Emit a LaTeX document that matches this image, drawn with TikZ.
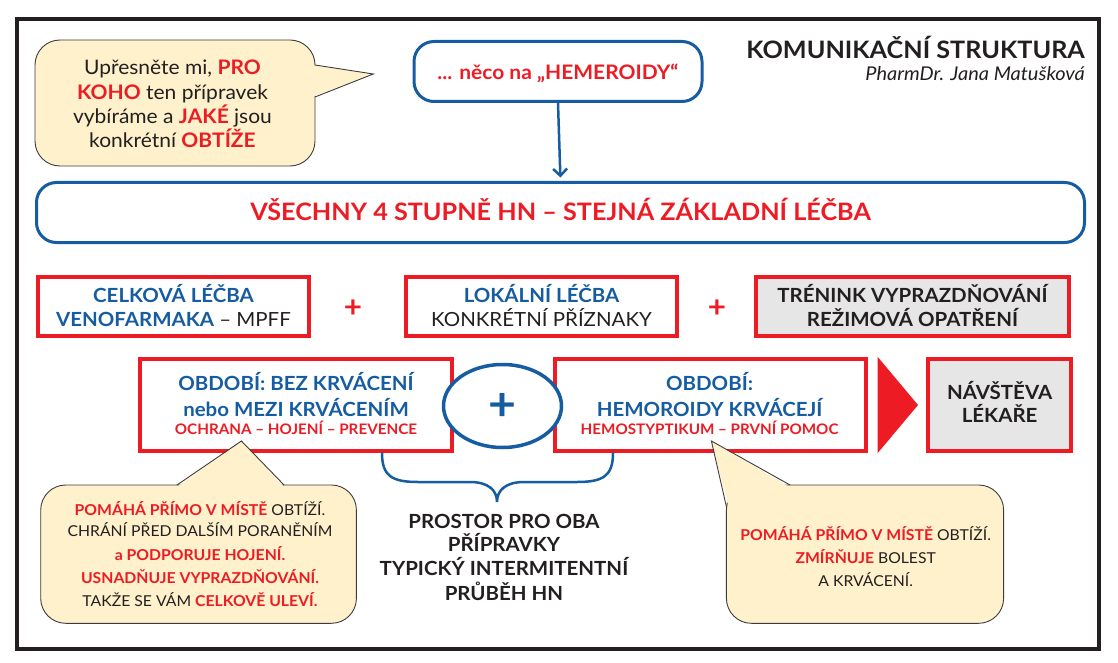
\documentclass[tikz,border=0pt]{standalone}
\usepackage{fontspec}
\setmainfont{Lato}[FakeStretch=1.05]
\usetikzlibrary{arrows.meta,shapes.geometric}
\definecolor{cred}{RGB}{237,28,36}
\definecolor{cblue}{RGB}{22,92,160}
\definecolor{cdark}{RGB}{35,31,32}
\definecolor{cbub}{RGB}{254,241,203}
\definecolor{cgray}{RGB}{230,230,230}
\definecolor{cbubline}{RGB}{60,60,60}
\newcommand\fs[1]{\fontsize{#1}{#1}\selectfont}
\newcommand\R[1]{\textcolor{cred}{\bfseries #1}}
\newcommand\B[1]{\textcolor{cblue}{\bfseries #1}}
\begin{document}
\begin{tikzpicture}[x=1pt,y=-1pt,
  tx/.style={inner sep=0pt, anchor=base, text=cdark},
  redbox/.style={draw=cred, line width=4pt, inner sep=0pt},
  bluebox/.style={draw=cblue, line width=3pt, rounded corners=20pt, inner sep=0pt},
  bub/.style={fill=cbub, draw=cbubline, line width=0.9pt, rounded corners=25pt},
  tail/.style={draw=cbubline, line width=0.9pt, line join=miter},
  txS/.style={tx, font=\fs{15}},
  txM/.style={tx, font=\fs{19.5}},
  txR/.style={tx, font=\fs{14.5}\bfseries, text=cred},
  plusR/.style={inner sep=0pt, text=cred, font=\fs{30}\bfseries},
]
\useasboundingbox (0,0) rectangle (1118,663);
% frame
\draw[cdark, line width=4pt] (17,19) rectangle (1099.3,648.8);

% top-left bubble
\draw[bub] (35,40) rectangle (315,166);
\fill[cbub] (312,65) -- (373.3,74) -- (312,97) -- cycle;
\draw[tail] (315,65) -- (373.3,74) -- (315,97);
\node[tx, font=\fs{20}] (q1) at (172.5,74.3) {Upřesněte mi, \R{PRO}};
\node[tx, font=\fs{20}] (q2) at (172.5,99.3) {\R{KOHO} ten přípravek};
\node[tx, font=\fs{20}] (q3) at (172.5,123.5) {vybíráme a \R{JAKÉ} jsou};
\node[tx, font=\fs{20}] (q4) at (172.5,148) {konkrétní \R{OBTÍŽE}};

% top blue box
\node[bluebox, minimum width=288pt, minimum height=60pt] (hem) at (558,71.5) {};
\node[tx, font=\fs{20}\bfseries, text=cred] (hemt) at (558,80) {... něco na „HEMEROIDY“};

% title
\node[tx, anchor=base east, font=\fs{24}\bfseries] (title) at (1085,58.3) {KOMUNIKAČNÍ STRUKTURA};
\node[tx, anchor=base east, font=\fs{19}\itshape] (author) at (1085,81) {PharmDr. Jana Matušková};

% big box
\node[bluebox, minimum width=1048pt, minimum height=60pt] (all) at (560.5,212.5) {};
\node[tx, font=\fs{24}\bfseries, text=cred] (allt) at (560.5,220) {VŠECHNY 4 STUPNĚ HN – STEJNÁ ZÁKLADNÍ LÉČBA};
\draw[cblue, line width=2.5pt, -{Straight Barb[length=7pt,width=14pt]}, shorten >=3.5pt] (hem.south) -- (all.north);

% row 1
\node[redbox, minimum width=271pt, minimum height=59pt] (boxA) at (173.5,306.5) {};
\node[txM] (a1) at (173.5,302.7) {\B{CELKOVÁ LÉČBA}};
\node[txM] (a2) at (173.5,326.7) {\B{VENOFARMAKA} – MPFF};
\node[plusR] (p1) at (353,309) {+};
\node[redbox, minimum width=271pt, minimum height=59pt] (boxB) at (541.5,306.5) {};
\node[txM] (b1) at (541.5,302.7) {\B{LOKÁLNÍ LÉČBA}};
\node[txM] (b2) at (541.5,326.7) {KONKRÉTNÍ PŘÍZNAKY};
\node[plusR] (p2) at (717,309) {+};
\node[redbox, fill=cgray, minimum width=313pt, minimum height=59pt] (boxC) at (912.5,306.5) {};
\node[txM, font=\fs{19.5}\bfseries] (c1) at (912.5,302.7) {TRÉNINK VYPRAZDŇOVÁNÍ};
\node[txM, font=\fs{19.5}\bfseries] (c2) at (912.5,326.7) {REŽIMOVÁ OPATŘENÍ};

% row 2
\node[redbox, minimum width=312pt, minimum height=92pt] (boxD) at (296,405) {};
\node[redbox, minimum width=311.5pt, minimum height=92pt] (boxE) at (710.25,405) {};
\node[ellipse, draw=cblue, fill=white, line width=3.5pt, minimum width=118pt, minimum height=83pt, inner sep=0pt] (ell) at (502.5,406) {};
\node[inner sep=0pt, text=cblue, font=\fs{46}\bfseries] (pl) at (502.5,407) {+};
\node[txM] (d1) at (296,390.7) {\B{OBDOBÍ: BEZ KRVÁCENÍ}};
\node[txM] (d2) at (296,416) {\B{nebo MEZI KRVÁCENÍM}};
\node[txR] (d3) at (296,434) {OCHRANA – HOJENÍ – PREVENCE};
\node[txM] (e1) at (709.6,390) {\B{OBDOBÍ:}};
\node[txM] (e2) at (709.6,416) {\B{HEMOROIDY KRVÁCEJÍ}};
\node[txR] (e3) at (709.6,434) {HEMOSTYPTIKUM – PRVNÍ POMOC};
\fill[cred] (877.5,356.7) -- (918,405) -- (877.5,453.3) -- cycle;
\node[redbox, fill=cgray, minimum width=143pt, minimum height=92pt] (boxF) at (999.5,405) {};
\node[txM, font=\fs{19.5}\bfseries] (f1) at (999.6,399.3) {NÁVŠTĚVA};
\node[txM, font=\fs{19.5}\bfseries] (f2) at (999.6,422.7) {LÉKAŘE};

% brace
\coordinate (brL) at (382,453);
\coordinate (brR) at (613,453);
\coordinate (brT) at (497,502);
\draw[cblue, line width=2.5pt, line cap=round]
  (brL) .. controls (382,476) and (392,482) .. (418,482) -- (470,482)
  .. controls (488,482) and (497,490) .. (brT)
  .. controls (497,490) and (506,482) .. (524,482) -- (577,482)
  .. controls (603,482) and (613,476) .. (brR);

% middle text
\node[tx, font=\fs{19.5}\bfseries] (m1) at (504,528.3) {PROSTOR PRO OBA};
\node[tx, font=\fs{19.5}\bfseries] (m2) at (504,551.7) {PŘÍPRAVKY};
\node[tx, font=\fs{19.5}\bfseries] (m3) at (504,575.3) {TYPICKÝ INTERMITENTNÍ};
\node[tx, font=\fs{19.5}\bfseries] (m4) at (504,600) {PRŮBĚH HN};

% bottom-left bubble
\draw[bub] (40.7,485) rectangle (356.4,623.3);
\fill[cbub] (177,487) -- (241.4,441) -- (284,487) -- cycle;
\draw[tail] (177,485) -- (241.4,441) -- (284,485);
\node[txS] (l1) at (200,515) {\R{POMÁHÁ PŘÍMO V MÍSTĚ} OBTÍŽÍ.};
\node[txS] (l2) at (200,536.7) {CHRÁNÍ PŘED DALŠÍM PORANĚNÍM};
\node[txS] (l3) at (200,560) {\R{a PODPORUJE HOJENÍ.}};
\node[txS] (l4) at (200,583.3) {\R{USNADŇUJE VYPRAZDŇOVÁNÍ.}};
\node[txS] (l5) at (200,606.7) {TAKŽE SE VÁM \R{CELKOVĚ ULEVÍ.}};

% bottom-right bubble
\draw[bub] (726.4,485) rectangle (1003.6,623.3);
\fill[cbub] (790,487.5) -- (711.4,441) -- (728.5,506.7) -- (790,507) -- cycle;
\draw[tail] (790,485) -- (711.4,441) -- (726.4,506.7);
\node[txS] (r1) at (865.7,540) {\R{POMÁHÁ PŘÍMO V MÍSTĚ} OBTÍŽÍ.};
\node[txS] (r2) at (865.7,563.3) {\R{ZMÍRŇUJE} BOLEST};
\node[txS] (r3) at (865.7,586.7) {A KRVÁCENÍ.};
\end{tikzpicture}
\end{document}
